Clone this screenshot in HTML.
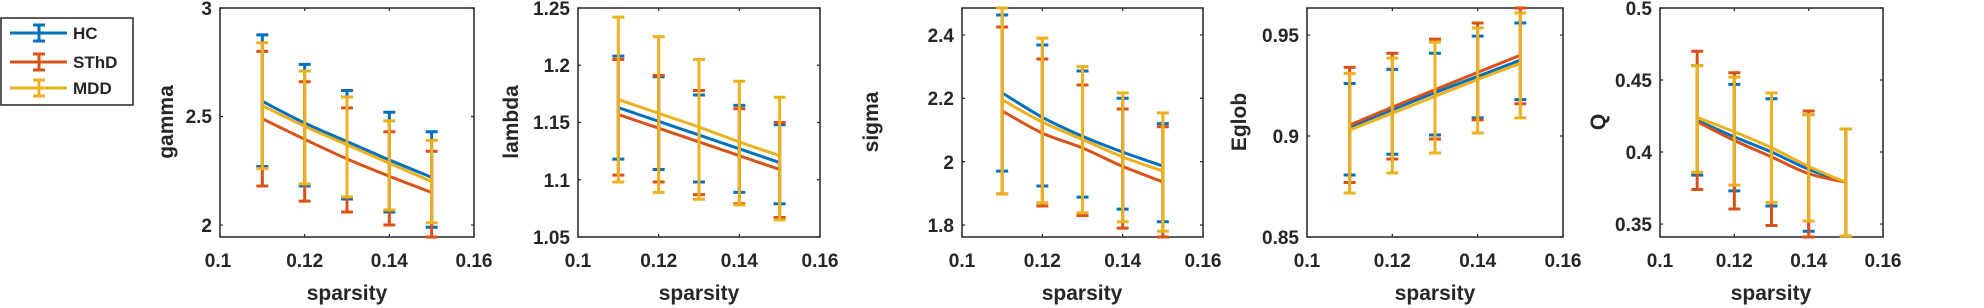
<!DOCTYPE html>
<html><head><meta charset="utf-8"><style>
html,body{margin:0;padding:0;background:#fff;}
svg{display:block;font-family:"Liberation Sans",Arial,sans-serif;font-weight:bold;fill:#262626;}
</style></head><body>
<svg id="s" width="1984" height="308" viewBox="0 0 1984 308" xmlns="http://www.w3.org/2000/svg">
<g id="plots"></g>
<g font-size="19" text-anchor="middle" fill="#262626">
<text x="218" y="267">0.1</text><text x="304.7" y="267">0.12</text><text x="389.3" y="267">0.14</text><text x="474" y="267">0.16</text>
<text x="578" y="267">0.1</text><text x="658.7" y="267">0.12</text><text x="739.3" y="267">0.14</text><text x="820" y="267">0.16</text>
<text x="962" y="267">0.1</text><text x="1042.3" y="267">0.12</text><text x="1122.7" y="267">0.14</text><text x="1203" y="267">0.16</text>
<text x="1307" y="267">0.1</text><text x="1392.3" y="267">0.12</text><text x="1477.7" y="267">0.14</text><text x="1563" y="267">0.16</text>
<text x="1660" y="267">0.1</text><text x="1734.3" y="267">0.12</text><text x="1808.7" y="267">0.14</text><text x="1883" y="267">0.16</text>
</g>
<g font-size="19" text-anchor="end" fill="#262626">
<text x="212" y="232">2</text><text x="212" y="123">2.5</text><text x="212" y="15">3</text>
<text x="570" y="244">1.05</text><text x="570" y="187">1.1</text><text x="570" y="129">1.15</text><text x="570" y="72">1.2</text><text x="570" y="15">1.25</text>
<text x="954" y="232">1.8</text><text x="954" y="169">2</text><text x="954" y="105">2.2</text><text x="954" y="42">2.4</text>
<text x="1299" y="244">0.85</text><text x="1299" y="143">0.9</text><text x="1299" y="42">0.95</text>
<text x="1652" y="231">0.35</text><text x="1652" y="159">0.4</text><text x="1652" y="87">0.45</text><text x="1652" y="15">0.5</text>
</g>
<g font-size="21" text-anchor="middle" fill="#262626">
<text x="347" y="300">sparsity</text><text x="699" y="300">sparsity</text><text x="1082" y="300">sparsity</text><text x="1435" y="300">sparsity</text><text x="1771" y="300">sparsity</text>
<text transform="translate(173,122) rotate(-90)">gamma</text>
<text transform="translate(518,122) rotate(-90)">lambda</text>
<text transform="translate(878,122) rotate(-90)">sigma</text>
<text transform="translate(1246,122) rotate(-90)">Eglob</text>
<text transform="translate(1605,122) rotate(-90)">Q</text>
</g>
<g>
<rect x="1" y="18" width="132" height="87" fill="#fff" stroke="#262626" stroke-width="1.5"/>
<g stroke-width="3" fill="none">
<path d="M10 33H67M39 25V41M33 25H45M33 41H45" stroke="#0072BD"/>
<path d="M10 62H67M39 54V70M33 54H45M33 70H45" stroke="#D95319"/>
<path d="M10 88H67M39 80V96M33 80H45M33 96H45" stroke="#EDB120"/>
</g>
<g font-size="17" fill="#262626"><text x="73" y="39">HC</text><text x="73" y="68">SThD</text><text x="73" y="94">MDD</text></g>
</g>
</svg>
<script>
var P=[
 {L:220,R:474,ymin:1.945,ymax:3,yt:[2,2.5,3],
  d:[[[2.57,2.27,2.876],[2.47,2.18,2.74],[2.385,2.12,2.62],[2.30,2.06,2.52],[2.22,1.99,2.43]],
     [[2.49,2.18,2.80],[2.395,2.11,2.66],[2.305,2.06,2.54],[2.225,2.0,2.43],[2.15,1.945,2.34]],
     [[2.55,2.26,2.84],[2.455,2.19,2.71],[2.37,2.13,2.59],[2.285,2.07,2.48],[2.20,2.01,2.39]]]},
 {L:578,R:820,ymin:1.05,ymax:1.25,yt:[1.05,1.1,1.15,1.2,1.25],
  d:[[[1.163,1.118,1.208],[1.151,1.109,1.19],[1.139,1.098,1.174],[1.127,1.089,1.165],[1.115,1.079,1.148]],
     [[1.157,1.104,1.205],[1.145,1.098,1.191],[1.133,1.087,1.178],[1.121,1.079,1.162],[1.109,1.067,1.15]],
     [[1.17,1.098,1.242],[1.158,1.089,1.225],[1.146,1.083,1.205],[1.133,1.078,1.186],[1.121,1.065,1.172]]]},
 {L:962,R:1203,ymin:1.762,ymax:2.485,yt:[1.8,2,2.2,2.4],
  d:[[[2.217,1.97,2.463],[2.14,1.923,2.368],[2.08,1.888,2.286],[2.03,1.85,2.2],[1.986,1.81,2.12]],
     [[2.16,1.898,2.425],[2.09,1.86,2.324],[2.043,1.83,2.242],[1.985,1.79,2.166],[1.936,1.762,2.11]],
     [[2.195,1.898,2.485],[2.125,1.87,2.39],[2.07,1.838,2.30],[2.015,1.81,2.217],[1.97,1.78,2.154]]]},
 {L:1307,R:1563,ymin:0.85,ymax:0.9634,yt:[0.85,0.9,0.95],
  d:[[[0.9045,0.8807,0.926],[0.913,0.891,0.933],[0.9215,0.9005,0.941],[0.9295,0.909,0.9495],[0.9376,0.918,0.956]],
     [[0.9054,0.877,0.934],[0.9143,0.8886,0.941],[0.923,0.8985,0.948],[0.9315,0.908,0.956],[0.940,0.916,0.9634]],
     [[0.903,0.8718,0.931],[0.9113,0.8817,0.9386],[0.9197,0.8916,0.9465],[0.928,0.9015,0.9535],[0.936,0.909,0.961]]]},
 {L:1660,R:1883,ymin:0.341,ymax:0.5,yt:[0.35,0.4,0.45,0.5],
  d:[[[0.422,0.384,0.46],[0.4105,0.373,0.447],[0.40,0.3625,0.437],[0.388,0.345,0.426],[0.379,0.3417,0.416]],
     [[0.421,0.374,0.47],[0.408,0.3604,0.455],[0.3966,0.349,0.441],[0.385,0.341,0.4285],[0.379,0.3417,0.416]],
     [[0.424,0.386,0.46],[0.414,0.377,0.452],[0.403,0.365,0.441],[0.390,0.352,0.426],[0.379,0.3417,0.416]]]}
];
var C=["#0072BD","#D95319","#EDB120"],T=8,B=237,out="";
P.forEach(function(p){
 function X(v){return p.L+(v-0.1)/0.06*(p.R-p.L);}
 function Y(v){return B-(v-p.ymin)/(p.ymax-p.ymin)*(B-T);}
 out+='<rect x="'+p.L+'" y="'+T+'" width="'+(p.R-p.L)+'" height="'+(B-T)+'" fill="#fff" stroke="#262626" stroke-width="1.5"/>';
 var tk="";
 [0.1,0.12,0.14,0.16].forEach(function(v){var x=X(v);tk+="M"+x+" "+B+"V"+(B-3)+"M"+x+" "+T+"V"+(T+3);});
 p.yt.forEach(function(v){var y=Y(v);tk+="M"+p.L+" "+y+"H"+(p.L+3)+"M"+p.R+" "+y+"H"+(p.R-3);});
 out+='<path d="'+tk+'" stroke="#262626" stroke-width="1.2" fill="none"/>';
 p.d.forEach(function(g,gi){
  var pts=g.map(function(r,i){return [X(0.11+0.01*i),Y(r[0])];});
  var dd="M"+pts[0][0]+" "+pts[0][1];
  for(var i=1;i<pts.length;i++){var a=pts[i-1],b=pts[i],pa=pts[i-2]||a,nb=pts[i+1]||b;
   dd+="C"+(a[0]+(b[0]-pa[0])/6)+" "+(a[1]+(b[1]-pa[1])/6)+" "+(b[0]-(nb[0]-a[0])/6)+" "+(b[1]-(nb[1]-a[1])/6)+" "+b[0]+" "+b[1];}
  var e="";
  g.forEach(function(r,i){var x=X(0.11+0.01*i),lo=Y(r[1]),hi=Y(r[2]);
   e+="M"+x+" "+lo+"V"+hi+"M"+(x-6)+" "+lo+"H"+(x+6)+"M"+(x-6)+" "+hi+"H"+(x+6);});
  out+='<path d="'+dd+'" stroke="'+C[gi]+'" stroke-width="3" fill="none"/>';
  out+='<path d="'+e+'" stroke="'+C[gi]+'" stroke-width="3" fill="none"/>';
 });
});
document.getElementById("plots").innerHTML=out;
</script>
</body></html>
